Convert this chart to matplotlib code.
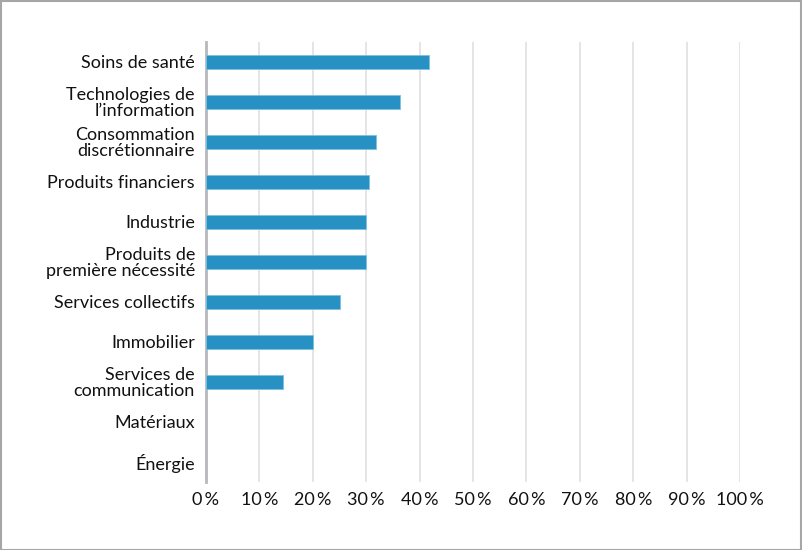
import matplotlib
matplotlib.use('Agg')
import matplotlib.pyplot as plt
from matplotlib.patches import Rectangle

plt.rcParams['font.family'] = ['Lato', 'DejaVu Sans']

# Sectors, top to bottom
sectors = [
    'Soins de santé',
    'Technologies de\nl’information',
    'Consommation\ndiscrétionnaire',
    'Produits financiers',
    'Industrie',
    'Produits de\npremière nécessité',
    'Services collectifs',
    'Immobilier',
    'Services de\ncommunication',
    'Matériaux',
    'Énergie',
]
shares = [41.7, 36.3, 31.8, 30.5, 30.0, 30.0, 25.0, 20.0, 14.4, 0.0, 0.0]
xticks = list(range(0, 101, 10))
xtick_labels = [f'{t}\u2009%' for t in xticks]

fig = plt.figure(figsize=(8.02, 5.50), dpi=100)
ax = fig.add_axes([206 / 802, 1 - 482 / 550, (740 - 206) / 802, 440 / 550])

ypos = list(range(len(sectors)))
edge_w = [0.6 if v > 0 else 0 for v in shares]
ax.barh(ypos, shares, height=0.36, color='#2891c4', edgecolor='#7cc0e2',
        linewidth=edge_w, zorder=3)

ax.set_xlim(0, 100)
ax.set_ylim(len(sectors) - 0.5, -0.5)
ax.set_xticks(xticks)
ax.set_xticklabels(xtick_labels, fontsize=13, color='#111111')
ax.set_yticks(ypos)
ax.set_yticklabels(sectors, fontsize=13, color='#111111', linespacing=0.95)
ax.tick_params(axis='both', length=0)
ax.tick_params(axis='x', pad=7)
ax.tick_params(axis='y', pad=8)

ax.grid(axis='x', color='#e3e3e6', linewidth=1.3, zorder=0)
for side in ['top', 'right', 'bottom']:
    ax.spines[side].set_visible(False)
ax.spines['left'].set_color('#b8b8bc')
ax.spines['left'].set_linewidth(2)

# thin frame around the whole picture
fig.patches.append(Rectangle((0.5 / 802, 0.5 / 550), 1 - 1.5 / 802, 1 - 1.5 / 550,
                             transform=fig.transFigure, fill=False,
                             edgecolor='#a6a6a6', linewidth=1.5))

fig.savefig('out.png', dpi=100)
